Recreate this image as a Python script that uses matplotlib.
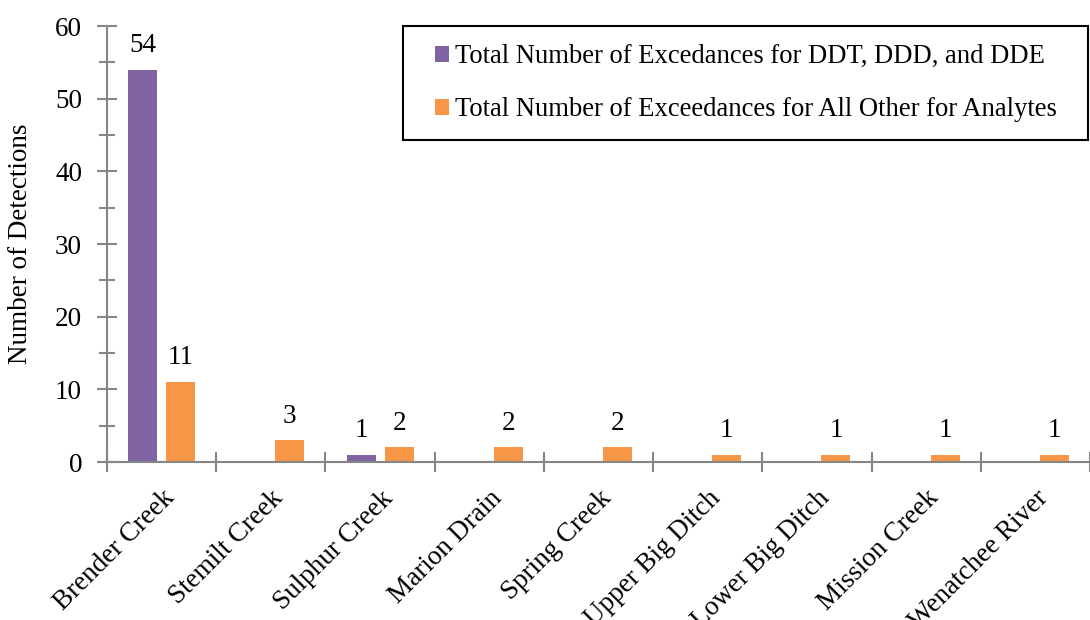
import matplotlib
matplotlib.use('Agg')
import matplotlib.pyplot as plt
import numpy as np
from matplotlib.patches import Rectangle
from matplotlib.ticker import MultipleLocator, FixedLocator

sites = ['Brender Creek', 'Stemilt Creek', 'Sulphur Creek', 'Marion Drain',
         'Spring Creek', 'Upper Big Ditch', 'Lower Big Ditch', 'Mission Creek',
         'Wenatchee River']
ddt = [54, 0, 1, 0, 0, 0, 0, 0, 0]
other = [11, 3, 2, 2, 2, 1, 1, 1, 1]
labels = ['Total Number of Excedances for DDT, DDD, and DDE',
          'Total Number of Exceedances for All Other for Analytes']

purple, orange, grey = '#8064A2', '#F79646', '#868686'

plt.rcParams.update({'font.family': ['Liberation Serif', 'DejaVu Serif'],
                     'font.size': 19.5})

fig = plt.figure(figsize=(10.9, 6.2), dpi=100)
ax = fig.add_axes([0.0982, 0.2548, 0.9018, 0.703])

x = np.arange(len(sites))
w, off = 0.265, 0.174
b1 = ax.bar(x - off, ddt, w, color=purple, label=labels[0])
b2 = ax.bar(x + off, other, w, color=orange, label=labels[1])

for bars, vals in ((b1, ddt), (b2, other)):
    for r, v in zip(bars, vals):
        if v > 0:
            ax.text(r.get_x() + r.get_width() / 2, v + 1.6, str(v),
                    ha='center', va='bottom', fontsize=19.5)

ax.set_xlim(-0.5, len(sites) - 0.5)
ax.set_ylim(0, 60)
ax.yaxis.set_major_locator(MultipleLocator(10))
ax.yaxis.set_minor_locator(MultipleLocator(5))

# category boundaries carry the tick marks, labels sit at centres
ax.xaxis.set_major_locator(FixedLocator(x))
ax.xaxis.set_minor_locator(FixedLocator(np.arange(-0.5, len(sites), 1.0)))
ax.set_xticklabels(sites, rotation=45, ha='right', rotation_mode='anchor')
ax.tick_params(axis='x', which='major', length=0, pad=17)
ax.tick_params(axis='x', which='minor', direction='inout', length=15,
               width=1.5, color=grey)
ax.tick_params(axis='y', which='major', direction='inout', length=14,
               width=1.5, color=grey, pad=11)
ax.tick_params(axis='y', which='minor', direction='inout', length=11,
               width=1.5, color=grey)

for s in ['top', 'right']:
    ax.spines[s].set_visible(False)
for s in ['left', 'bottom']:
    ax.spines[s].set_color(grey)
    ax.spines[s].set_linewidth(1.5)

ax.set_ylabel('Number of Detections', fontsize=19.5, labelpad=16)

# legend box (wider side padding than matplotlib's uniform borderpad)
bx0, by0, bx1, by1 = 0.301, 0.7385, 0.998, 1.0
ax.add_patch(Rectangle((bx0, by0), bx1 - bx0, by1 - by0, transform=ax.transAxes,
                       facecolor='white', edgecolor='black', lw=1.5,
                       clip_on=False, zorder=4))
leg = ax.legend(loc='center', bbox_to_anchor=((bx0 + bx1) / 2, (by0 + by1) / 2),
                fontsize=19.2, frameon=False, handlelength=0.55,
                handleheight=0.55, handletextpad=0.2, labelspacing=1.05,
                borderpad=0, borderaxespad=0)
leg.set_zorder(5)

fig.savefig('out.png', dpi=100)
